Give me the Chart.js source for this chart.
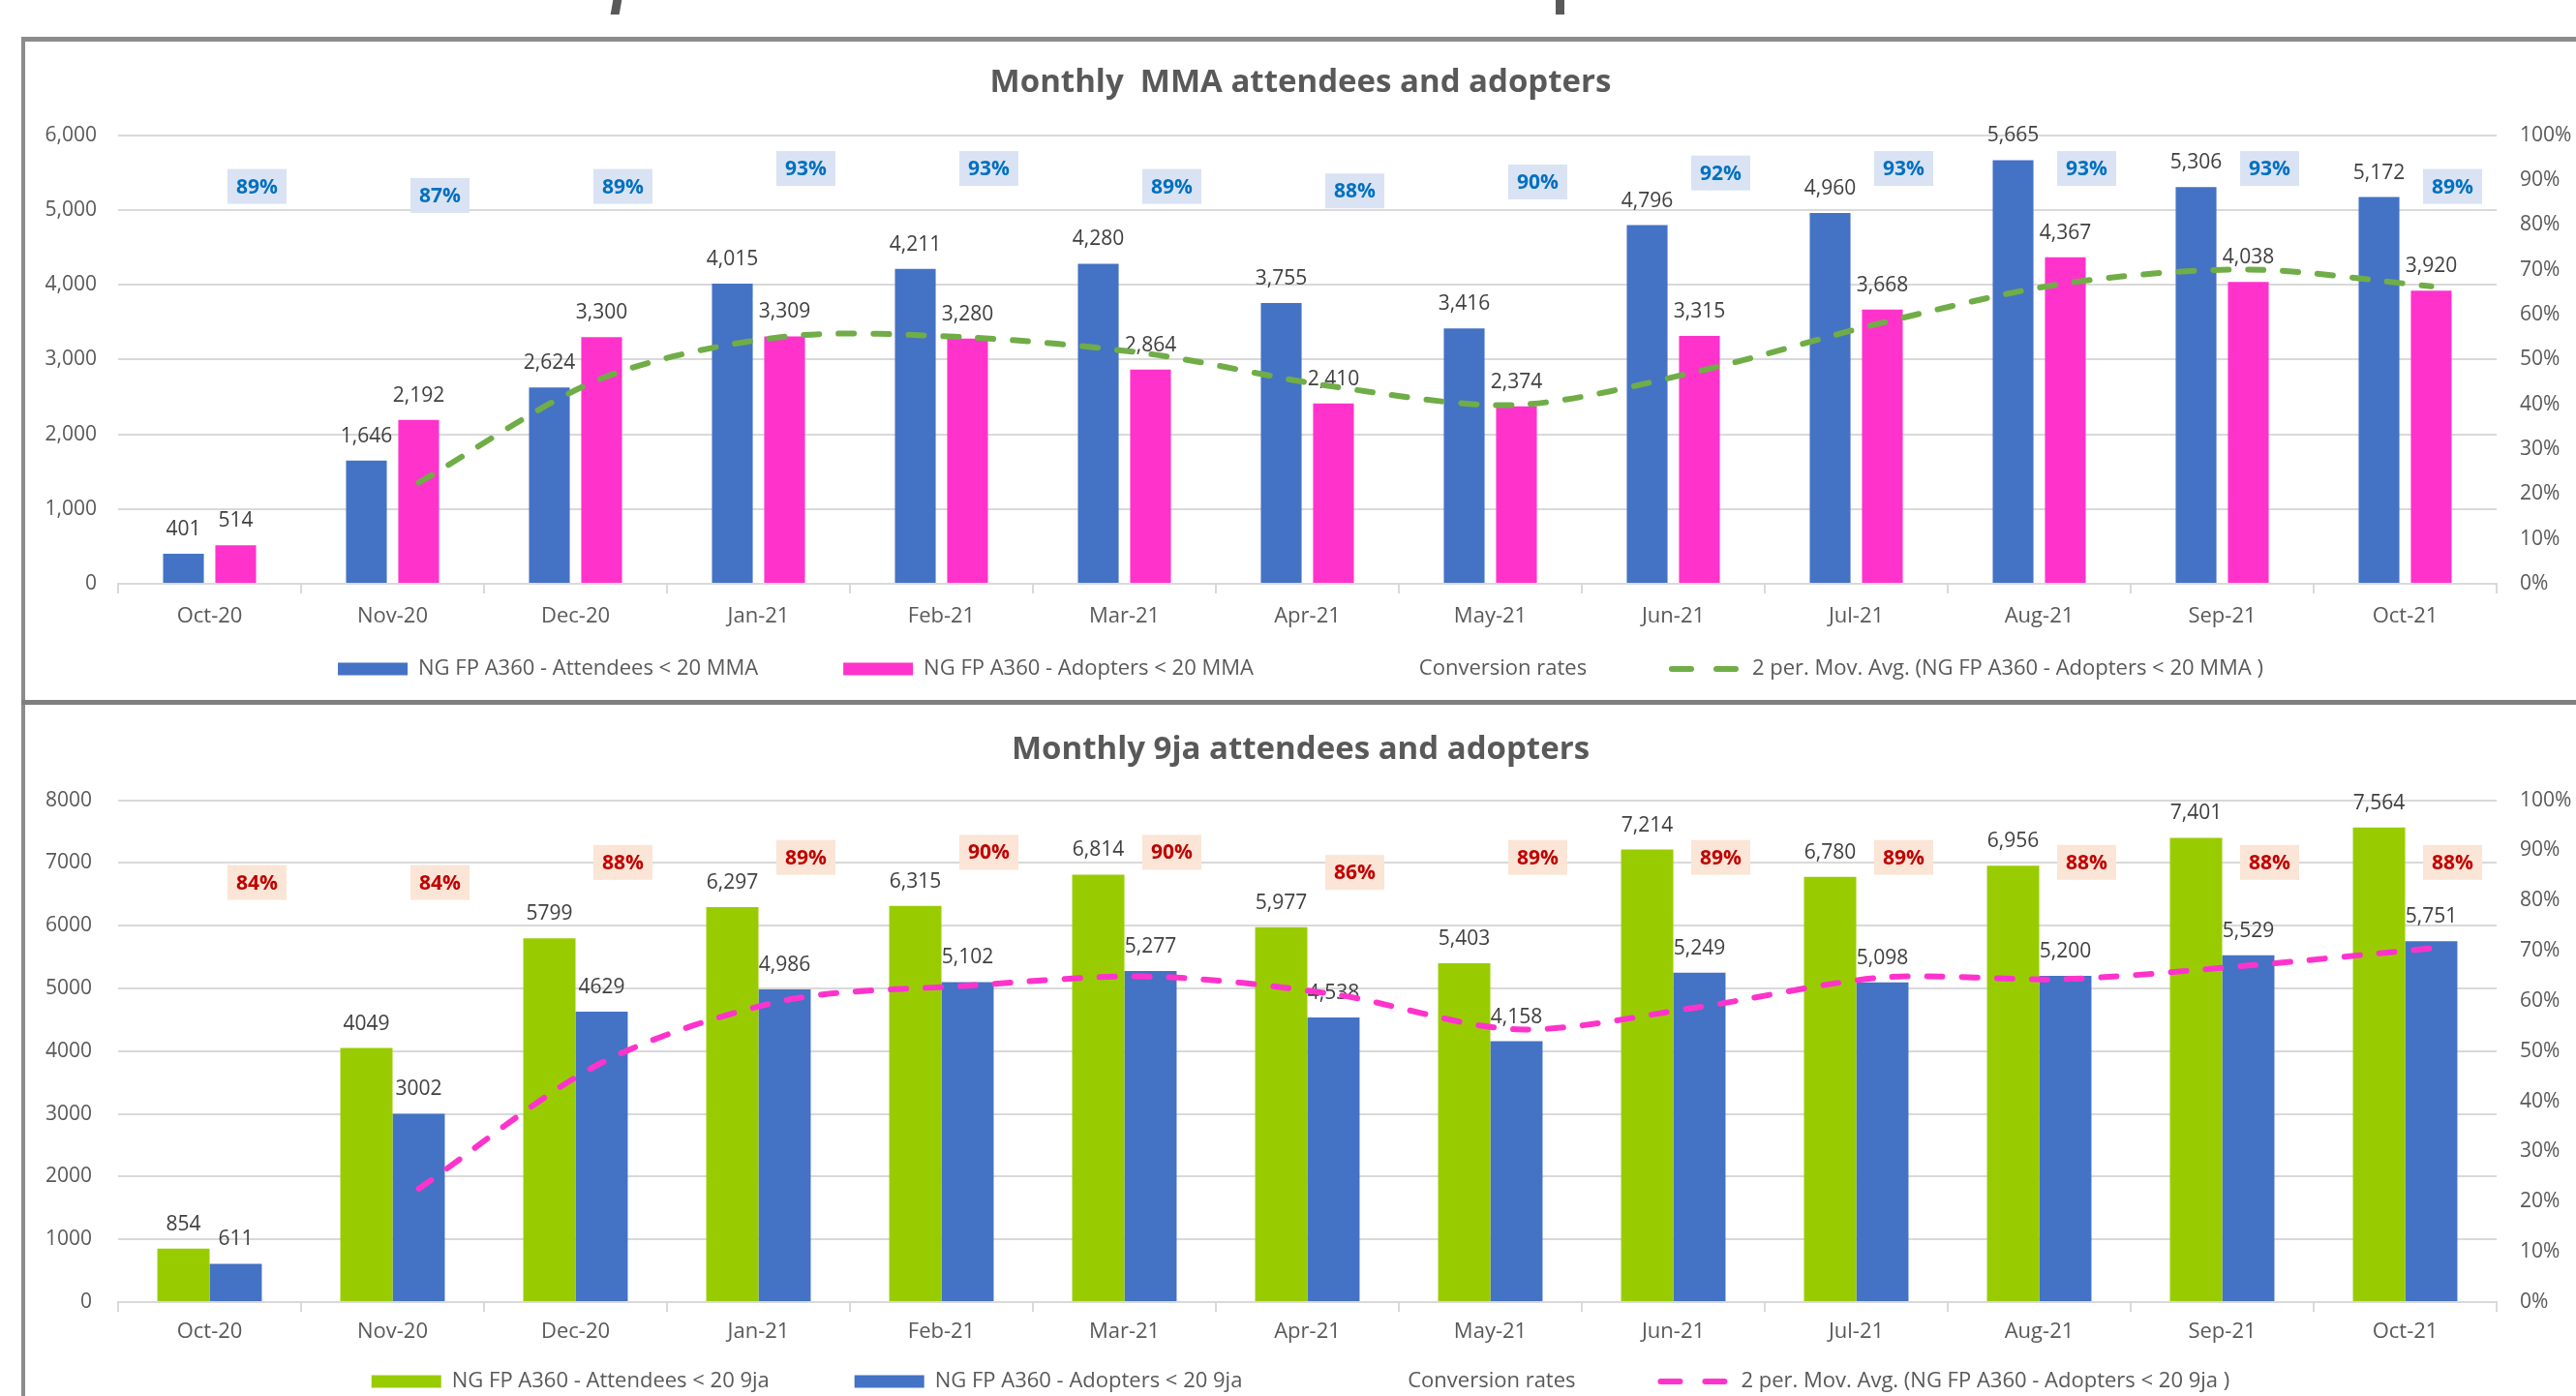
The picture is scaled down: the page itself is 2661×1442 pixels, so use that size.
<!DOCTYPE html>
<html>
<head>
<meta charset="utf-8">
<title>Monthly attendees and adopters</title>
<script src="https://cdn.jsdelivr.net/npm/chart.js@4.4.1/dist/chart.umd.min.js"></script>
<style>
    html, body { margin: 0; padding: 0; background: #fff; width: 2661px; height: 1442px; overflow: hidden; position: relative; }
    .rule { position: absolute; background: #8c8c8c; z-index: 2; }
    .cut { position: absolute; top: 0; width: 9px; height: 15px; background: #595959; }
    canvas { position: absolute; left: 26px; }
    #mmaChart { top: 43px; }
    #njaChart { top: 728px; }
</style>
</head>
<body>
<div class="cut" style="left: 632px; transform: skewX(-10deg);"></div>
<div class="cut" style="left: 1607px;"></div>
<div class="rule" style="left: 22px; top: 38px; width: 2650px; height: 5px;"></div>
<div class="rule" style="left: 22px; top: 38px; width: 4px; height: 1410px;"></div>
<div class="rule" style="left: 22px; top: 723px; width: 2650px; height: 5px; background: #7f7f7f;"></div>

<canvas id="mmaChart" width="2635" height="669"></canvas>
<canvas id="njaChart" width="2635" height="720"></canvas>

<script>
const FONT = "'Open Sans', 'Noto Sans', sans-serif";

const months = ['Oct-20', 'Nov-20', 'Dec-20', 'Jan-21', 'Feb-21', 'Mar-21', 'Apr-21',
    'May-21', 'Jun-21', 'Jul-21', 'Aug-21', 'Sep-21', 'Oct-21'];

// Monthly MMA
const mmaAttendees = [401, 1646, 2624, 4015, 4211, 4280, 3755, 3416, 4796, 4960, 5665, 5306, 5172];
const mmaAdopters = [514, 2192, 3300, 3309, 3280, 2864, 2410, 2374, 3315, 3668, 4367, 4038, 3920];
const mmaConversion = [89, 87, 89, 93, 93, 89, 88, 90, 92, 93, 93, 93, 89];
const mmaMovAvg = [null, 1353, 2746, 3305, 3295, 3072, 2637, 2392, 2845, 3492, 4018, 4203, 3979];

// Monthly 9ja
const njaAttendees = [854, 4049, 5799, 6297, 6315, 6814, 5977, 5403, 7214, 6780, 6956, 7401, 7564];
const njaAdopters = [611, 3002, 4629, 4986, 5102, 5277, 4538, 4158, 5249, 5098, 5200, 5529, 5751];
const njaConversion = [84, 84, 88, 89, 90, 90, 86, 89, 89, 89, 88, 88, 88];
const njaMovAvg = [null, 1807, 3816, 4808, 5044, 5190, 4908, 4348, 4704, 5174, 5149, 5365, 5640];

// the first 9ja labels were typed without thousands separator
const njaPlainLabels = 3;

const legendGap = ' '.repeat(11);

// excel style labels: values above bars, boxed conversion %, trendline drawn at the adopters bar
const excelLabels = {
    id: 'excelLabels',
    beforeDatasetDraw(chart, args) {
        const ds = chart.data.datasets[args.index];
        if (ds.trendOfBar !== undefined) {
            const bar = chart.getDatasetMeta(ds.trendOfBar).data[0];
            const dx = bar.x - chart.scales.x.getPixelForValue(0);
            chart.ctx.save();
            chart.ctx.translate(dx, 0);
        }
    },
    afterDatasetDraw(chart, args, opts) {
        const ctx = chart.ctx;
        const ds = chart.data.datasets[args.index];
        if (ds.trendOfBar !== undefined) {
            ctx.restore();
            return;
        }
        if (args.index === 0) {
            ctx.save();
            ctx.font = '21px ' + FONT;
            ctx.fillStyle = '#404040';
            ctx.textAlign = 'center';
            ctx.textBaseline = 'middle';
            [0, 1].forEach((di) => {
                chart.getDatasetMeta(di).data.forEach((bar, i) => {
                    ctx.fillText(opts.format(chart.data.datasets[di].data[i], i), bar.x, bar.y - 25);
                });
            });
            ctx.restore();
        }
        if (ds.rateBox) {
            ctx.save();
            ctx.font = 'bold 21px ' + FONT;
            ctx.textAlign = 'center';
            ctx.textBaseline = 'middle';
            chart.getDatasetMeta(args.index).data.forEach((pt, i) => {
                const x = pt.x + 49;
                const y = pt.y + 2;
                ctx.fillStyle = ds.rateBox.fill;
                ctx.fillRect(x - 30.5, y - 18, 61, 36);
                ctx.fillStyle = ds.rateBox.text;
                ctx.fillText(ds.data[i] + '%', x, y + 1);
            });
            ctx.restore();
        }
    },
};

const legendItems = (chart) => {
    return chart.data.datasets.map((ds, i) => {
        let item = {
            text: ds.label + (i < 3 ? legendGap : ''),
            fontColor: '#595959',
            datasetIndex: i,
            hidden: false,
            lineCap: 'round',
        };
        if (ds.type === 'line' && ds.showLine !== false) {
            return Object.assign(item, {
                fillStyle: ds.borderColor,
                strokeStyle: ds.borderColor,
                lineWidth: 6,
                lineDash: [20, 26],
                pointStyle: 'line',
            });
        }
        let colour = ds.type === 'line' ? 'rgba(0,0,0,0)' : ds.backgroundColor;
        return Object.assign(item, {
            fillStyle: colour,
            strokeStyle: colour,
            lineWidth: 0,
            pointStyle: 'rect',
        });
    });
};

const buildChart = (canvasId, cfg) => {
    return new Chart(document.getElementById(canvasId), {
        type: 'bar',
        data: {
            labels: months,
            datasets: [
                {
                    label: cfg.names[0],
                    data: cfg.attendees,
                    backgroundColor: cfg.colours[0],
                    categoryPercentage: 0.571,
                    barPercentage: cfg.barPercentage,
                    yAxisID: 'y',
                    order: 3,
                },
                {
                    label: cfg.names[1],
                    data: cfg.adopters,
                    backgroundColor: cfg.colours[1],
                    categoryPercentage: 0.571,
                    barPercentage: cfg.barPercentage,
                    yAxisID: 'y',
                    order: 3,
                },
                {
                    type: 'line',
                    label: 'Conversion rates',
                    data: cfg.conversion,
                    showLine: false,
                    pointRadius: 0,
                    yAxisID: 'y1',
                    order: 2,
                    rateBox: cfg.rateBox,
                },
                {
                    type: 'line',
                    label: cfg.names[2],
                    data: cfg.movAvg,
                    borderColor: cfg.colours[2],
                    backgroundColor: cfg.colours[2],
                    borderWidth: 6,
                    borderDash: [16, 20],
                    borderCapStyle: 'round',
                    tension: 0.3,
                    pointRadius: 0,
                    fill: false,
                    yAxisID: 'y',
                    order: 1,
                    trendOfBar: 1,
                },
            ],
        },
        options: {
            responsive: false,
            animation: false,
            layout: { padding: 0 },
            plugins: {
                title: {
                    display: true,
                    text: cfg.title,
                    color: '#595959',
                    font: { family: FONT, size: 33, weight: 'bold' },
                    padding: cfg.titlePadding,
                },
                legend: {
                    position: 'bottom',
                    labels: {
                        usePointStyle: true,
                        pointStyleWidth: 72,
                        boxHeight: 13,
                        padding: 25,
                        color: '#595959',
                        font: { family: FONT, size: 22 },
                        generateLabels: legendItems,
                    },
                },
                tooltip: { enabled: false },
                excelLabels: { format: cfg.labelFormat },
            },
            scales: {
                x: {
                    grid: {
                        display: true,
                        drawOnChartArea: false,
                        drawTicks: true,
                        tickLength: 10,
                        color: '#d9d9d9',
                        lineWidth: 2,
                        offset: true,
                    },
                    border: { display: true, color: '#d9d9d9', width: 2 },
                    ticks: {
                        color: '#595959',
                        font: { family: FONT, size: 22 },
                        padding: cfg.xPadding,
                        maxRotation: 0,
                        autoSkip: false,
                    },
                    afterFit: (scale) => {
                        scale.height = cfg.xHeight;
                    },
                },
                y: {
                    min: 0,
                    max: cfg.yMax,
                    ticks: {
                        stepSize: 1000,
                        color: '#595959',
                        font: { family: FONT, size: 21 },
                        padding: cfg.yPadding,
                        callback: cfg.yFormat,
                    },
                    grid: { color: '#d9d9d9', lineWidth: 2, drawTicks: false },
                    border: { display: false },
                    afterFit: (scale) => {
                        scale.width = 96;
                    },
                },
                y1: {
                    position: 'right',
                    min: 0,
                    max: 100,
                    ticks: {
                        stepSize: 10,
                        color: '#595959',
                        font: { family: FONT, size: 21 },
                        padding: 24,
                        callback: (v) => v + '%',
                    },
                    grid: { display: false, drawTicks: false },
                    border: { display: false },
                    afterFit: (scale) => {
                        scale.width = 82;
                    },
                },
            },
        },
        plugins: [excelLabels],
    });
};

let mmaChart = buildChart('mmaChart', {
    title: 'Monthly  MMA attendees and adopters',
    names: ['NG FP A360 - Attendees < 20 MMA', 'NG FP A360 - Adopters < 20 MMA',
        '2 per. Mov. Avg. (NG FP A360 - Adopters < 20 MMA )'],
    colours: ['#4472c4', '#ff33cc', '#70ad47'],
    attendees: mmaAttendees,
    adopters: mmaAdopters,
    conversion: mmaConversion,
    movAvg: mmaMovAvg,
    barPercentage: 0.78,
    rateBox: { fill: '#dae3f3', text: '#0070c0' },
    titlePadding: { top: 23, bottom: 34 },
    xPadding: 11,
    xHeight: 52,
    yMax: 6000,
    yPadding: 22,
    yFormat: (v) => v.toLocaleString('en-US'),
    labelFormat: (v) => v.toLocaleString('en-US'),
});

let njaChart = buildChart('njaChart', {
    title: 'Monthly 9ja attendees and adopters',
    names: ['NG FP A360 - Attendees < 20 9ja', 'NG FP A360 - Adopters < 20 9ja',
        '2 per. Mov. Avg. (NG FP A360 - Adopters < 20 9ja )'],
    colours: ['#99cc00', '#4472c4', '#ff33cc'],
    attendees: njaAttendees,
    adopters: njaAdopters,
    conversion: njaConversion,
    movAvg: njaMovAvg,
    barPercentage: 1.0,
    rateBox: { fill: '#fbe5d6', text: '#c00000' },
    titlePadding: { top: 27, bottom: 32 },
    xPadding: 8,
    xHeight: 46,
    yMax: 8000,
    yPadding: 27,
    yFormat: (v) => String(v),
    labelFormat: (v, i) => (i < njaPlainLabels ? String(v) : v.toLocaleString('en-US')),
});
</script>
</body>
</html>
